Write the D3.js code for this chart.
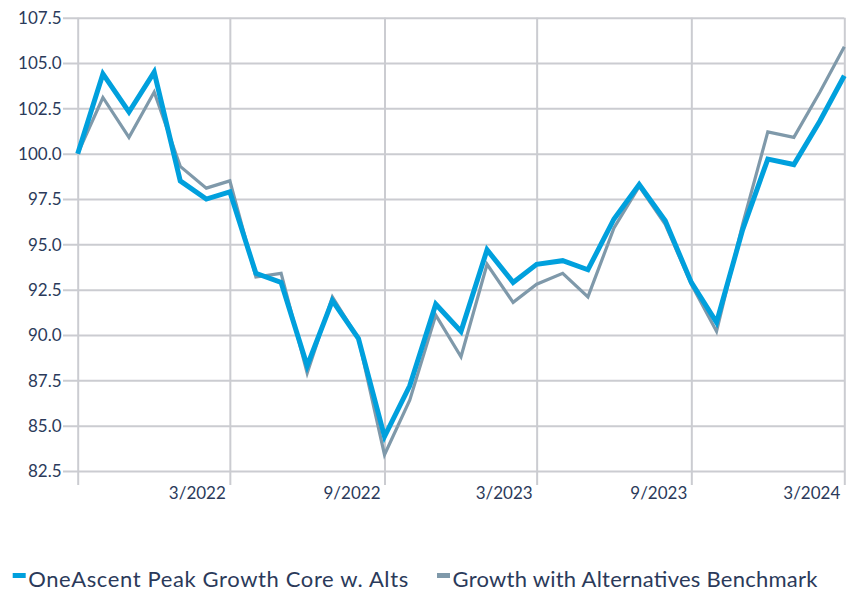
<!DOCTYPE html>
<html>
<head>
<meta charset="utf-8">
<script src="https://cdn.jsdelivr.net/npm/d3@7"></script>
<style>
  body { margin: 0; background: #fff; }
  svg text { font-family: Lato, "Open Sans", sans-serif; fill: #2b3a5a; }
</style>
</head>
<body>
<svg class="perf" width="853" height="591"></svg>
<script>
// monthly points, 9/2021 .. 3/2024
const months = ["2021-09","2021-10","2021-11","2021-12","2022-01","2022-02","2022-03",
  "2022-04","2022-05","2022-06","2022-07","2022-08","2022-09","2022-10","2022-11","2022-12",
  "2023-01","2023-02","2023-03","2023-04","2023-05","2023-06","2023-07","2023-08","2023-09",
  "2023-10","2023-11","2023-12","2024-01","2024-02","2024-03"];
const coreAlts = [100.0, 104.4, 102.3, 104.5, 98.5, 97.5, 97.9, 93.4, 92.9, 88.3, 91.9, 89.8,
  84.4, 87.2, 91.7, 90.2, 94.7, 92.9, 93.9, 94.1, 93.6, 96.4, 98.3, 96.3, 92.9, 90.7, 95.8,
  99.7, 99.4, 101.8, 104.3];
const benchmark = [100.0, 103.1, 100.9, 103.4, 99.3, 98.1, 98.5, 93.2, 93.4, 87.9, 92.1, 89.8,
  83.4, 86.4, 91.1, 88.8, 93.9, 91.8, 92.8, 93.4, 92.1, 95.9, 98.2, 96.1, 92.8, 90.2, 96.1,
  101.2, 100.9, 103.4, 105.9];
const xTicks = ["2021-09","2022-03","2022-09","2023-03","2023-09","2024-03"];
const xTickLabels = ["", "3/2022", "9/2022", "3/2023", "9/2023", "3/2024"];
const yTicks = [82.5, 85.0, 87.5, 90.0, 92.5, 95.0, 97.5, 100.0, 102.5, 105.0, 107.5];
const seriesNames = ["OneAscent Peak Growth Core w. Alts", "Growth with Alternatives Benchmark"];

(function perfChart(){
    let svg = d3.select("svg.perf");
    let margin = {top: 17.7, left: 77.7, right: 853 - 844.3, bottom: 591 - 471};
    let width = 853 - margin.left - margin.right;
    let height = 591 - margin.top - margin.bottom;
    let parse = d3.timeParse("%Y-%m");
    let gridColor = "#cbccd1";

    let x = d3.scaleTime().domain([parse(months[0]), parse(months[months.length - 1])]).range([0, width]);
    let y = d3.scaleLinear().domain([82.5, 107.5]).range([height, 0]);

    let g = svg.append("g").attr("transform", "translate(" + margin.left + "," + margin.top + ")");

    // horizontal grid + y labels
    let yAxis = g.append("g")
        .attr("class", "y-axis")
        .call(d3.axisLeft(y).tickValues(yTicks).tickSize(-width - 14.7).tickFormat(d3.format(".1f")))
        .attr("transform", "translate(" + (-14.7) + ",0)");
    yAxis.select(".domain").remove();
    yAxis.selectAll(".tick line").attr("x1", 0).attr("x2", width + 14.7)
        .attr("stroke", gridColor).attr("stroke-width", 2);
    yAxis.selectAll(".tick text").attr("x", -1.5).attr("dy", "0.34em")
        .style("font-size", "17px").style("fill", "#2b3a5a");

    // vertical grid + x labels
    let xAxis = g.append("g")
        .attr("class", "x-axis")
        .attr("transform", "translate(0," + height + ")")
        .call(d3.axisBottom(x).tickValues(xTicks.map(parse))
            .tickFormat(function(d, i) { return xTickLabels[i]; }));
    xAxis.select(".domain").remove();
    xAxis.selectAll(".tick line").attr("y1", -height).attr("y2", 14)
        .attr("stroke", gridColor).attr("stroke-width", 2);
    xAxis.selectAll(".tick text").attr("text-anchor", "end").attr("x", -4.5).attr("y", 28)
        .attr("dy", 0).style("font-size", "17px").style("fill", "#2b3a5a");

    let line = function(vals) {
        return d3.line()
            .x(function(d, i) { return x(parse(months[i])); })
            .y(function(d) { return y(d); })(vals);
    };

    g.append("path").attr("d", line(benchmark))
        .attr("fill", "none").attr("stroke", "#7f99aa").attr("stroke-width", 3.2)
        .attr("stroke-linejoin", "miter");
    g.append("path").attr("d", line(coreAlts))
        .attr("fill", "none").attr("stroke", "#00a0dd").attr("stroke-width", 5)
        .attr("stroke-linejoin", "miter");

    // legend
    let legend = svg.append("g").attr("class", "legend");
    let items = [{name: seriesNames[0], color: "#00a0dd", x: 12.7, w: 380},
                 {name: seriesNames[1], color: "#7f99aa", x: 437, w: 365}];
    items.forEach(function(it) {
        legend.append("rect").attr("x", it.x).attr("y", 573).attr("width", 13).attr("height", 5)
            .attr("fill", it.color);
        legend.append("text").attr("x", it.x + 15.5).attr("y", 586.5)
            .attr("textLength", it.w).attr("lengthAdjust", "spacing")
            .style("font-size", "22px").text(it.name);
    });
})();
</script>
</body>
</html>
